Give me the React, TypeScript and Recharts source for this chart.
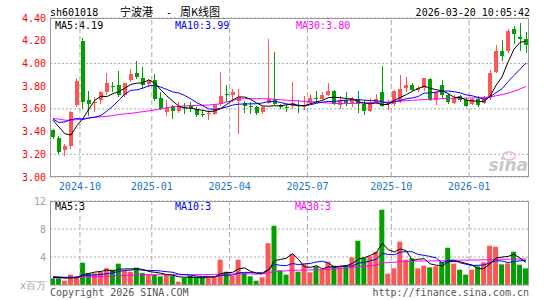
import React from 'react'
import {
  ComposedChart, Bar, Line, XAxis, YAxis, CartesianGrid, ReferenceLine, Cell
} from 'recharts'

const WEEKS = [
  '2024-09-06', '2024-09-13', '2024-09-20', '2024-09-27', '2024-09-30', '2024-10-11', '2024-10-18', '2024-10-25',
  '2024-11-01', '2024-11-08', '2024-11-15', '2024-11-22', '2024-11-29', '2024-12-06', '2024-12-13', '2024-12-20',
  '2024-12-27', '2025-01-03', '2025-01-10', '2025-01-17', '2025-01-24', '2025-01-27', '2025-02-07', '2025-02-14',
  '2025-02-21', '2025-02-28', '2025-03-07', '2025-03-14', '2025-03-21', '2025-03-28', '2025-04-03', '2025-04-11',
  '2025-04-18', '2025-04-25', '2025-04-30', '2025-05-09', '2025-05-16', '2025-05-23', '2025-05-30', '2025-06-06',
  '2025-06-13', '2025-06-20', '2025-06-27', '2025-07-04', '2025-07-11', '2025-07-18', '2025-07-25', '2025-08-01',
  '2025-08-08', '2025-08-15', '2025-08-22', '2025-08-29', '2025-09-05', '2025-09-12', '2025-09-19', '2025-09-26',
  '2025-09-30', '2025-10-10', '2025-10-17', '2025-10-24', '2025-10-31', '2025-11-07', '2025-11-14', '2025-11-21',
  '2025-11-28', '2025-12-05', '2025-12-12', '2025-12-19', '2025-12-26', '2025-12-31', '2026-01-09', '2026-01-16',
  '2026-01-23', '2026-01-30', '2026-02-06', '2026-02-13', '2026-02-27', '2026-03-06', '2026-03-13', '2026-03-20',
]

const OPEN = [
  3.412, 3.341, 3.241, 3.271, 3.632, 4.200, 3.676, 3.650, 3.676, 3.750,
  3.800, 3.809, 3.721, 3.853, 3.918, 3.876, 3.818, 3.853, 3.700, 3.574,
  3.624, 3.579, 3.615, 3.632, 3.597, 3.556, 3.562, 3.559, 3.641, 3.732,
  3.721, 3.671, 3.653, 3.621, 3.612, 3.574, 3.653, 3.691, 3.632, 3.615,
  3.624, 3.635, 3.618, 3.653, 3.694, 3.691, 3.721, 3.756, 3.632, 3.682,
  3.653, 3.691, 3.647, 3.582, 3.653, 3.750, 3.641, 3.641, 3.668, 3.788,
  3.812, 3.765, 3.782, 3.865, 3.679, 3.806, 3.718, 3.650, 3.709, 3.679,
  3.641, 3.688, 3.650, 3.694, 3.924, 4.112, 4.106, 4.303, 4.232, 4.218,
]
const HIGH = [
  3.424, 3.359, 3.294, 3.582, 3.876, 4.224, 3.756, 3.706, 3.756, 3.918,
  3.838, 3.932, 3.824, 3.947, 4.021, 3.970, 3.859, 3.906, 3.750, 3.676,
  3.632, 3.662, 3.653, 3.662, 3.612, 3.588, 3.588, 3.641, 3.926, 3.809,
  3.779, 3.776, 3.671, 3.662, 3.624, 3.624, 4.212, 4.103, 3.647, 3.632,
  3.838, 3.682, 3.712, 3.729, 3.756, 3.747, 3.829, 3.765, 3.712, 3.750,
  3.706, 3.756, 3.676, 3.697, 3.735, 3.976, 3.676, 3.765, 3.897, 3.882,
  3.826, 3.800, 3.871, 3.871, 3.753, 3.856, 3.729, 3.718, 3.718, 3.694,
  3.700, 3.709, 3.709, 3.944, 4.159, 4.209, 4.306, 4.326, 4.356, 4.276,
]
const LOW = [
  3.335, 3.200, 3.185, 3.250, 3.620, 3.600, 3.535, 3.574, 3.641, 3.721,
  3.750, 3.706, 3.706, 3.838, 3.859, 3.779, 3.794, 3.671, 3.588, 3.535,
  3.509, 3.565, 3.553, 3.574, 3.529, 3.524, 3.500, 3.544, 3.624, 3.662,
  3.662, 3.382, 3.565, 3.553, 3.544, 3.559, 3.641, 3.632, 3.603, 3.574,
  3.603, 3.565, 3.588, 3.647, 3.653, 3.676, 3.715, 3.632, 3.603, 3.624,
  3.618, 3.562, 3.544, 3.574, 3.641, 3.612, 3.588, 3.624, 3.653, 3.750,
  3.753, 3.750, 3.753, 3.671, 3.635, 3.694, 3.641, 3.641, 3.659, 3.620,
  3.635, 3.620, 3.641, 3.679, 3.915, 4.024, 4.091, 4.171, 4.106, 4.091,
]
const CLOSE = [
  3.353, 3.221, 3.271, 3.571, 3.844, 3.662, 3.641, 3.662, 3.747, 3.829,
  3.790, 3.726, 3.824, 3.906, 3.882, 3.809, 3.853, 3.691, 3.603, 3.618,
  3.582, 3.624, 3.610, 3.603, 3.550, 3.553, 3.565, 3.632, 3.712, 3.729,
  3.750, 3.703, 3.624, 3.618, 3.565, 3.618, 3.691, 3.641, 3.618, 3.612,
  3.653, 3.632, 3.627, 3.700, 3.691, 3.721, 3.756, 3.641, 3.682, 3.653,
  3.697, 3.641, 3.582, 3.653, 3.685, 3.624, 3.653, 3.759, 3.779, 3.809,
  3.768, 3.780, 3.871, 3.679, 3.747, 3.718, 3.659, 3.700, 3.679, 3.629,
  3.688, 3.635, 3.694, 3.915, 4.106, 4.062, 4.282, 4.259, 4.218, 4.165,
]

const MA5 = [
  3.500, 3.440, 3.380, 3.370, 3.452, 3.514, 3.598, 3.676, 3.711, 3.708,
  3.734, 3.751, 3.783, 3.815, 3.826, 3.829, 3.855, 3.828, 3.768, 3.715,
  3.669, 3.624, 3.607, 3.607, 3.594, 3.588, 3.576, 3.581, 3.602, 3.638,
  3.678, 3.705, 3.704, 3.685, 3.652, 3.626, 3.623, 3.627, 3.627, 3.636,
  3.643, 3.631, 3.628, 3.645, 3.661, 3.674, 3.699, 3.702, 3.698, 3.691,
  3.686, 3.663, 3.651, 3.645, 3.652, 3.637, 3.639, 3.675, 3.700, 3.725,
  3.754, 3.779, 3.801, 3.781, 3.769, 3.759, 3.735, 3.701, 3.701, 3.677,
  3.671, 3.666, 3.665, 3.712, 3.808, 3.882, 4.012, 4.125, 4.185, 4.197,
]
const MA10 = [
  3.510, 3.480, 3.485, 3.505, 3.515, 3.507, 3.519, 3.528, 3.541, 3.580,
  3.624, 3.675, 3.730, 3.763, 3.767, 3.782, 3.803, 3.806, 3.792, 3.771,
  3.749, 3.740, 3.718, 3.688, 3.655, 3.629, 3.600, 3.594, 3.605, 3.616,
  3.633, 3.641, 3.643, 3.644, 3.645, 3.652, 3.664, 3.666, 3.656, 3.644,
  3.635, 3.627, 3.628, 3.636, 3.649, 3.659, 3.665, 3.665, 3.672, 3.676,
  3.680, 3.681, 3.677, 3.672, 3.672, 3.662, 3.651, 3.663, 3.673, 3.689,
  3.696, 3.709, 3.738, 3.741, 3.747, 3.757, 3.757, 3.751, 3.741, 3.723,
  3.715, 3.701, 3.683, 3.707, 3.743, 3.777, 3.839, 3.895, 3.949, 4.003,
]
const MA30 = [
  3.515, 3.510, 3.500, 3.500, 3.505, 3.515, 3.520, 3.525, 3.530, 3.535,
  3.540, 3.550, 3.555, 3.560, 3.568, 3.575, 3.582, 3.590, 3.600, 3.610,
  3.618, 3.622, 3.626, 3.628, 3.630, 3.632, 3.634, 3.638, 3.645, 3.660,
  3.675, 3.685, 3.690, 3.690, 3.690, 3.690, 3.688, 3.684, 3.680, 3.676,
  3.673, 3.670, 3.665, 3.662, 3.660, 3.655, 3.652, 3.648, 3.646, 3.646,
  3.648, 3.650, 3.652, 3.655, 3.657, 3.658, 3.660, 3.664, 3.668, 3.672,
  3.675, 3.678, 3.682, 3.686, 3.688, 3.690, 3.692, 3.693, 3.694, 3.695,
  3.696, 3.697, 3.700, 3.706, 3.715, 3.725, 3.738, 3.755, 3.775, 3.797,
]

// 成交量, 百万股
const VOLUME = [
  0.95, 0.95, 0.62, 1.48, 1.19, 3.19, 1.71, 1.67, 1.90, 2.38,
  2.19, 3.05, 2.00, 1.90, 2.48, 1.71, 1.57, 1.43, 1.24, 1.43,
  1.33, 0.48, 1.05, 1.33, 1.19, 1.10, 1.10, 1.10, 3.62, 1.90,
  1.33, 3.62, 1.71, 1.24, 0.62, 1.10, 5.95, 8.48, 2.10, 1.48,
  4.43, 1.90, 3.00, 1.81, 2.67, 2.19, 3.33, 2.76, 2.52, 2.86,
  3.95, 6.33, 3.90, 4.10, 4.76, 10.76, 1.62, 2.38, 6.19, 3.62,
  3.81, 2.38, 2.76, 2.52, 2.67, 3.33, 5.33, 3.05, 2.19, 1.48,
  2.19, 2.67, 3.24, 5.62, 5.48, 2.95, 3.10, 4.76, 2.90, 2.38,
]
const VOL_MA5 = [
  1.10, 1.05, 1.00, 1.00, 1.04, 1.49, 1.64, 1.85, 1.93, 2.17,
  1.97, 2.24, 2.30, 2.30, 2.32, 2.23, 1.93, 1.82, 1.69, 1.48,
  1.40, 1.18, 1.11, 1.12, 1.08, 1.03, 1.15, 1.16, 1.62, 1.76,
  1.81, 2.31, 2.44, 1.96, 1.70, 1.66, 2.12, 3.48, 3.65, 3.82,
  4.49, 3.68, 2.58, 2.52, 2.76, 2.31, 2.60, 2.55, 2.69, 2.73,
  3.08, 3.68, 3.91, 4.23, 4.61, 5.97, 5.03, 4.72, 5.14, 4.91,
  3.52, 3.68, 3.75, 3.02, 2.83, 2.73, 3.32, 3.38, 3.31, 3.08,
  2.85, 2.32, 2.35, 3.04, 3.84, 3.99, 4.08, 4.38, 3.84, 3.22,
]
const VOL_MA10 = [
  1.20, 1.15, 1.10, 1.10, 1.15, 1.30, 1.40, 1.45, 1.50, 1.61,
  1.73, 1.94, 2.08, 2.12, 2.25, 2.10, 2.09, 2.06, 2.00, 1.90,
  1.82, 1.56, 1.47, 1.41, 1.28, 1.22, 1.17, 1.14, 1.37, 1.42,
  1.42, 1.73, 1.80, 1.79, 1.73, 1.74, 2.22, 2.96, 2.81, 2.76,
  3.08, 2.90, 3.03, 3.09, 3.29, 3.40, 3.14, 2.57, 2.61, 2.75,
  2.70, 3.14, 3.23, 3.46, 3.67, 4.53, 4.36, 4.32, 4.69, 4.76,
  4.75, 4.36, 4.24, 4.08, 3.87, 3.13, 3.50, 3.57, 3.17, 2.96,
  2.79, 2.82, 2.87, 3.18, 3.46, 3.42, 3.20, 3.37, 3.44, 3.53,
]
const VOL_MA30 = [
  1.00, 1.02, 1.04, 1.06, 1.08, 1.12, 1.15, 1.18, 1.22, 1.26,
  1.30, 1.34, 1.38, 1.40, 1.43, 1.45, 1.46, 1.47, 1.48, 1.48,
  1.48, 1.47, 1.47, 1.47, 1.48, 1.48, 1.50, 1.52, 1.55, 1.56,
  1.57, 1.60, 1.60, 1.58, 1.56, 1.57, 1.72, 1.95, 2.00, 2.02,
  2.10, 2.12, 2.14, 2.15, 2.17, 2.20, 2.25, 2.30, 2.35, 2.42,
  2.50, 2.60, 2.67, 2.75, 2.85, 3.15, 3.20, 3.25, 3.35, 3.38,
  3.40, 3.42, 3.43, 3.44, 3.45, 3.47, 3.50, 3.52, 3.55, 3.56,
  3.57, 3.58, 3.60, 3.62, 3.65, 3.67, 3.68, 3.69, 3.70, 3.71,
]

const MONTH_STARTS = ['2024-10-11', '2025-01-03', '2025-04-03', '2025-07-04', '2025-10-10', '2026-01-09']
const PRICE_TICKS = [3.0, 3.2, 3.4, 3.6, 3.8, 4.0, 4.2, 4.4]
const VOL_TICKS = [0, 4, 8, 12]

const FONT = '"DejaVu Sans Mono", monospace'
const RED = '#ff5555'
const GREEN = '#00a000'
const GRID = '#aaaaaa'

const rows = WEEKS.map((week, i) => ({
  week,
  open: OPEN[i],
  high: HIGH[i],
  low: LOW[i],
  close: CLOSE[i],
  range: [LOW[i], HIGH[i]],
  up: CLOSE[i] >= OPEN[i],
  ma5: MA5[i],
  ma10: MA10[i],
  ma30: MA30[i],
  vol: VOLUME[i],
  vma5: VOL_MA5[i],
  vma10: VOL_MA10[i],
  vma30: VOL_MA30[i],
}))

function Candle(props: any) {
  const { x, y, width, height, payload } = props
  const top = Math.min(y, y + height)
  const h = Math.abs(height)
  const { open, close, high, low } = payload
  const k = h / (high - low)
  const color = close >= open ? RED : GREEN
  const cx = x + width / 2
  const bodyTop = top + (high - Math.max(open, close)) * k
  const bodyH = Math.max(1, Math.abs(open - close) * k)
  return (
    <g shapeRendering="crispEdges">
      <line x1={cx} x2={cx} y1={top} y2={top + h} stroke={color} strokeWidth={1} />
      <rect x={x} y={bodyTop} width={width} height={bodyH} fill={color} />
    </g>
  )
}

function WeekTick(props: any) {
  const { x, y, payload } = props
  if (!MONTH_STARTS.includes(payload.value)) return <g />
  // 标签居中于月份分隔线（类目带左边缘）
  return (
    <text x={x - 3} y={y} dy={13} textAnchor="middle" fill="#1874cd" fontSize={10} fontFamily={FONT}>
      {payload.value.slice(0, 7)}
    </text>
  )
}

const monthLines = MONTH_STARTS.map((w) => (
  <ReferenceLine key={w} x={w} position="start" stroke={GRID} strokeDasharray="5 3" />
))

export default function App() {
  return (
    <div style={{ position: 'absolute', left: 0, top: 0, width: 545, height: 300, background: '#fff', overflow: 'hidden' }}>
      {/* K线 */}
      <div style={{ position: 'absolute', left: 0, top: 0 }}>
        <ComposedChart width={545} height={200} data={rows} margin={{ top: 18, right: 16, bottom: 3, left: 0 }}>
          <CartesianGrid vertical={false} stroke={GRID} strokeDasharray="2 2" />
          <XAxis dataKey="week" interval={0} height={20} axisLine={false} tickLine={false} tickSize={0} tickMargin={0} tick={<WeekTick />} />
          <YAxis
            domain={[3, 4.4]}
            ticks={PRICE_TICKS}
            width={50}
            axisLine={false}
            tickLine={false}
            tickSize={0}
            tickMargin={4}
            tick={{ fill: '#ff0000', fontSize: 10, fontFamily: FONT }}
            tickFormatter={(v) => Number(v).toFixed(2)}
            allowDataOverflow
          />
          {monthLines}
          <Bar dataKey="range" barSize={4} shape={<Candle />} isAnimationActive={false} />
          <Line type="linear" dataKey="ma30" stroke="#ff00ff" strokeWidth={1} dot={false} isAnimationActive={false} />
          <Line type="linear" dataKey="ma10" stroke="#0000ff" strokeWidth={1} dot={false} isAnimationActive={false} />
          <Line type="linear" dataKey="ma5" stroke="#000000" strokeWidth={1} dot={false} isAnimationActive={false} />
        </ComposedChart>
      </div>

      {/* 成交量 */}
      <div style={{ position: 'absolute', left: 0, top: 190 }}>
        <ComposedChart width={545} height={110} data={rows} margin={{ top: 11, right: 16, bottom: 15, left: 0 }}>
          <CartesianGrid vertical={false} stroke={GRID} strokeDasharray="2 2" />
          <XAxis dataKey="week" hide height={0} />
          <YAxis
            domain={[0, 12]}
            ticks={VOL_TICKS}
            width={50}
            axisLine={false}
            tickLine={false}
            tickSize={0}
            tickMargin={4}
            tick={{ fill: '#a0a0a0', fontSize: 10, fontFamily: FONT }}
            tickFormatter={(v) => (v === 0 ? 'x百万' : String(v))}
            allowDataOverflow
          />
          {monthLines}
          <Bar dataKey="vol" barSize={5} isAnimationActive={false}>
            {rows.map((r) => (
              <Cell key={r.week} fill={r.up ? RED : GREEN} />
            ))}
          </Bar>
          <Line type="linear" dataKey="vma30" stroke="#ff00ff" strokeWidth={1} dot={false} isAnimationActive={false} />
          <Line type="linear" dataKey="vma10" stroke="#0000ff" strokeWidth={1} dot={false} isAnimationActive={false} />
          <Line type="linear" dataKey="vma5" stroke="#000000" strokeWidth={1} dot={false} isAnimationActive={false} />
        </ComposedChart>
      </div>

      {/* 标题、图例、边框 */}
      <svg width={545} height={300} style={{ position: 'absolute', left: 0, top: 0, pointerEvents: 'none' }} fontFamily={FONT} fontSize={10}>
        <rect x={50.5} y={18.5} width={478} height={158} fill="none" stroke="#999" />
        <rect x={50.5} y={201.5} width={478} height={83.5} fill="none" stroke="#999" />

        <text x={50} y={16} fill="#000">sh601018</text>
        <text x={120} y={16} fill="#000" fontSize={11} fontFamily='"Noto Sans CJK SC", sans-serif'>宁波港</text>
        <text x={166} y={16} fill="#000">-</text>
        <text x={180} y={16} fill="#000" fontSize={11} fontFamily='"Noto Sans CJK SC", sans-serif'>周K线图</text>
        <text x={530} y={16} fill="#000" textAnchor="end">2026-03-20 10:05:42</text>

        <text x={55} y={28.5} fill="#000">MA5:4.19</text>
        <text x={175} y={28.5} fill="#0000ff">MA10:3.99</text>
        <text x={296} y={28.5} fill="#ff00ff">MA30:3.80</text>

        <text x={55} y={210} fill="#000">MA5:3</text>
        <text x={175} y={210} fill="#0000ff">MA10:3</text>
        <text x={295} y={210} fill="#ff00ff">MA30:3</text>

        <ellipse cx={509} cy={156} rx={6} ry={4} fill="none" stroke="#f0b8b8" strokeWidth={1.5} />
        <text x={528} y={171} fill="#c8c8c8" fontSize={17} fontWeight="bold" fontStyle="italic" fontFamily='"DejaVu Sans", sans-serif' textAnchor="end">sina</text>

        <text x={50} y={296} fill="#555">Copyright 2026 SINA.COM</text>
        <text x={529} y={296} fill="#555" textAnchor="end">http://finance.sina.com.cn</text>
      </svg>
    </div>
  )
}
